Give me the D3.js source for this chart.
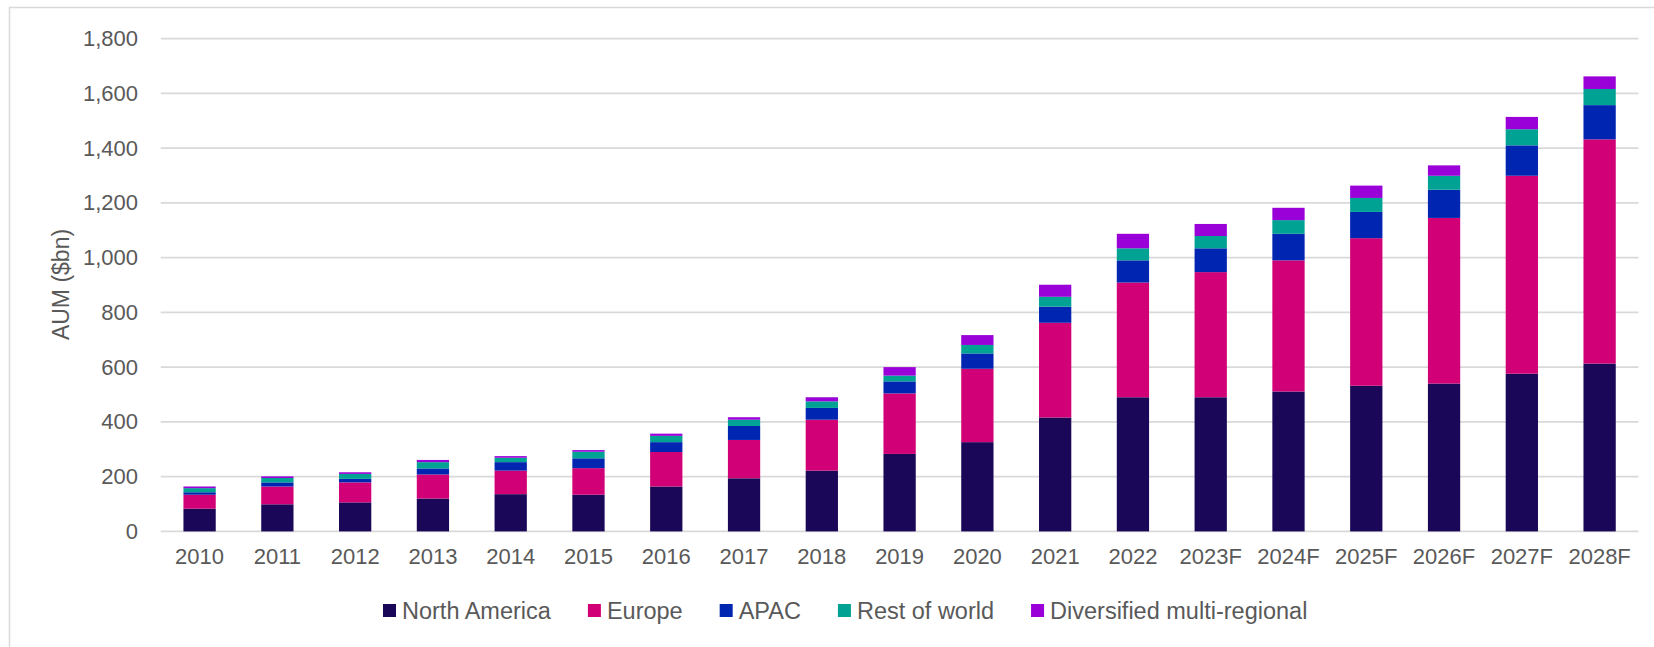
<!DOCTYPE html>
<html>
<head>
<meta charset="utf-8">
<script src="https://cdn.jsdelivr.net/npm/d3@7"></script>
<style>
  html, body { margin: 0; padding: 0; background: #fff; }
  svg { display: block; font-family: "Liberation Sans", Arial, sans-serif; }
</style>
</head>
<body>
<svg id="chart" width="1654" height="647"></svg>
<script>
const categories = ["2010","2011","2012","2013","2014","2015","2016","2017","2018","2019","2020","2021","2022","2023F","2024F","2025F","2026F","2027F","2028F"];
const seriesNames = ["North America","Europe","APAC","Rest of world","Diversified multi-regional"];
const northAmerica = [83, 99, 106, 120, 136, 134, 164, 194, 222, 283, 326, 416, 490, 490, 511, 532, 540, 576, 613];
const europe       = [51, 65, 73, 88, 86, 97, 126, 140, 186, 221, 268, 346, 419, 457, 479, 539, 605, 723, 819];
const apac         = [9, 15, 13, 22, 31, 36, 36, 51, 43, 44, 56, 59, 81, 87, 97, 96, 103, 111, 125];
const restOfWorld  = [15, 16, 18, 23, 16, 24, 23, 23, 24, 21, 31, 36, 44, 45, 50, 51, 51, 59, 59];
const diversified  = [6, 6, 6, 8, 6, 6, 8, 9, 15, 31, 36, 44, 53, 44, 45, 45, 38, 45, 46];
const yTicks = [0, 200, 400, 600, 800, 1000, 1200, 1400, 1600, 1800];
const colors = ["#1b0757", "#d20076", "#0025b0", "#00a293", "#9a00d8"];

(function () {
const seriesValues = [northAmerica, europe, apac, restOfWorld, diversified];
const keys = seriesNames;
const rows = categories.map((c, i) => {
  const r = { cat: c };
  keys.forEach((k, j) => r[k] = seriesValues[j][i]);
  return r;
});

const svg = d3.select("#chart");
const textColor = "#595959";
const gridColor = "#d9d9d9";

// frame
svg.append("rect")
  .attr("x", 9.5).attr("y", 7.5)
  .attr("width", 1700).attr("height", 700)
  .attr("fill", "none").attr("stroke", "#d9d9d9").attr("stroke-width", 1.5);

const pLeft = 160.7, pRight = 1638.5, pTop = 38.6, pBottom = 531.4;

const x = d3.scaleBand().domain(categories).range([pLeft, pRight]).paddingInner(0.585).paddingOuter(0.2925);
const y = d3.scaleLinear().domain([0, 1800]).range([pBottom, pTop]);

// gridlines
svg.append("g").selectAll("line").data(yTicks).join("line")
  .attr("x1", pLeft).attr("x2", pRight)
  .attr("y1", d => y(d)).attr("y2", d => y(d))
  .attr("stroke", gridColor).attr("stroke-width", 1.8);

// y axis labels
const yAxis = d3.axisLeft(y).tickValues(yTicks).tickFormat(d3.format(",")).tickSize(0).tickPadding(0);
const yg = svg.append("g").attr("transform", `translate(${138},0)`).call(yAxis);
yg.select(".domain").remove();
yg.selectAll("text").attr("fill", textColor).attr("font-size", 22).attr("font-family", "Liberation Sans, Arial, sans-serif");

// x axis labels
const xAxis = d3.axisBottom(x).tickSize(0).tickPadding(0);
const xg = svg.append("g").attr("transform", `translate(0,${548})`).call(xAxis);
xg.select(".domain").remove();
xg.selectAll("text").attr("fill", textColor).attr("font-size", 22).attr("font-family", "Liberation Sans, Arial, sans-serif");

// y title
svg.append("text")
  .attr("transform", `translate(69,284.5) rotate(-90)`)
  .attr("text-anchor", "middle")
  .attr("fill", textColor).attr("font-size", 23)
  .text("AUM ($bn)");

// stacked bars
const stack = d3.stack().keys(keys)(rows);
svg.append("g").selectAll("g").data(stack).join("g")
  .attr("fill", (d, i) => colors[i])
  .selectAll("rect").data(d => d).join("rect")
  .attr("x", d => x(d.data.cat))
  .attr("width", x.bandwidth())
  .attr("y", d => y(d[1]))
  .attr("height", d => y(d[0]) - y(d[1]));

// legend
const legend = svg.append("g");
let lx = 383;
const ly = 610.5;
keys.forEach((k, i) => {
  const g = legend.append("g");
  g.append("rect").attr("x", lx).attr("y", ly - 6.5).attr("width", 13).attr("height", 13).attr("fill", colors[i]);
  const t = g.append("text").attr("x", lx + 19).attr("y", ly + 8.5)
    .attr("fill", textColor).attr("font-size", 23.5).text(k);
  const w = t.node().getComputedTextLength();
  lx = lx + 19 + w + 37;
});
})();
</script>
</body>
</html>
